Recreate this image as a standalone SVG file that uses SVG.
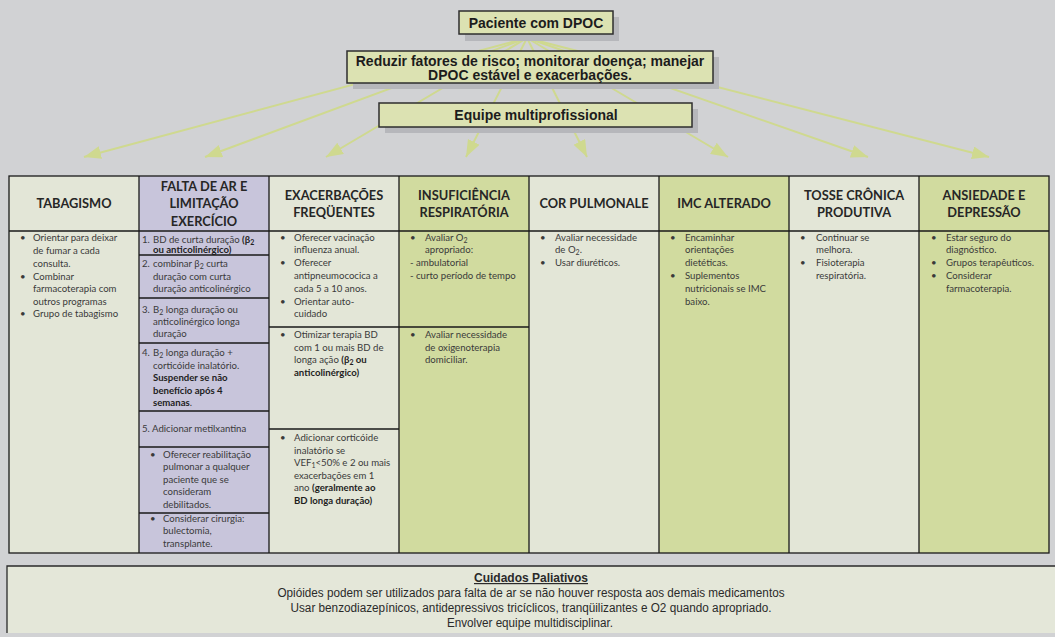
<svg xmlns="http://www.w3.org/2000/svg" width="1055" height="637" viewBox="0 0 1055 637">
<style>
.bg{fill:#d1d2d4}
.shadow{fill:#b6b7bb}
.box{fill:#dce2b2;stroke:#2e2e2e;stroke-width:1.5}
.title{font-family:"Liberation Sans",Arial,sans-serif;font-weight:bold;font-size:14px;fill:#1c1c1c;text-anchor:middle}
.pale{fill:#e3e6d7}
.lav{fill:#c8c5db}
.grn{fill:#d1db9f}
.grid{stroke:#1a1a1a;stroke-width:1.3;fill:none}
.hdr{font-family:Lato,"Noto Sans",sans-serif;font-weight:bold;font-size:12.8px;fill:#262626;text-anchor:middle}
.t{font-family:Lato,"Noto Sans",sans-serif;font-size:9.6px;fill:#3a3a3a}
.b{font-weight:bold;fill:#1e1e1e}
.conn{stroke:#cfd98f;stroke-width:2;fill:none}
.pal{font-family:"Liberation Sans",Arial,sans-serif;font-size:12px;fill:#2a2a2a;text-anchor:middle}
</style>
<defs>
<marker id="ah" markerUnits="userSpaceOnUse" markerWidth="18" markerHeight="14" refX="17" refY="6.5" orient="auto">
<path d="M0,0 L17,6.5 L0,13 z" fill="#cfd98f"/>
</marker>
</defs>
<rect class="bg" x="0" y="0" width="1055" height="637"/>

<g id="connectors">
<line class="conn" x1="527" y1="38" x2="84" y2="157" marker-end="url(#ah)"/>
<line class="conn" x1="527" y1="38" x2="205" y2="157" marker-end="url(#ah)"/>
<line class="conn" x1="527" y1="38" x2="326" y2="157" marker-end="url(#ah)"/>
<line class="conn" x1="527" y1="38" x2="466" y2="157" marker-end="url(#ah)"/>
<line class="conn" x1="527" y1="38" x2="587" y2="157" marker-end="url(#ah)"/>
<line class="conn" x1="527" y1="38" x2="728" y2="157" marker-end="url(#ah)"/>
<line class="conn" x1="527" y1="38" x2="868" y2="157" marker-end="url(#ah)"/>
<line class="conn" x1="527" y1="38" x2="989" y2="157" marker-end="url(#ah)"/>
</g>

<g id="paciente">
<rect class="shadow" x="465" y="17" width="154" height="24"/>
<rect class="box" x="459" y="11" width="154" height="23"/>
<text class="title" x="536" y="28">Paciente com DPOC</text>
</g>
<g id="reduzir">
<rect class="shadow" x="353" y="57" width="366" height="32"/>
<rect class="box" x="347" y="51" width="366" height="32"/>
<text class="title" x="530" y="66">Reduzir fatores de risco; monitorar doença; manejar</text>
<text class="title" x="530" y="80">DPOC estável e exacerbações.</text>
</g>
<g id="equipe">
<rect class="shadow" x="385" y="109" width="313" height="24"/>
<rect class="box" x="379" y="103" width="313" height="24"/>
<text class="title" x="536" y="120">Equipe multiprofissional</text>
</g>

<g id="tabagismo">
<rect class="pale" x="9" y="176" width="130" height="377"/>
<text class="hdr" x="74" y="208">TABAGISMO</text>
<text class="t" x="20" y="241">•</text>
<text class="t" x="33" y="241">Orientar para deixar</text>
<text class="t" x="33" y="254">de fumar a cada</text>
<text class="t" x="33" y="267">consulta.</text>
<text class="t" x="20" y="280">•</text>
<text class="t" x="33" y="280">Combinar</text>
<text class="t" x="33" y="292">farmacoterapia com</text>
<text class="t" x="33" y="305">outros programas</text>
<text class="t" x="20" y="317">•</text>
<text class="t" x="33" y="317">Grupo de tabagismo</text>
</g>

<g id="falta-de-ar">
<rect class="lav" x="139" y="176" width="130" height="377"/>
<text class="hdr" x="204" y="191">FALTA DE AR E</text>
<text class="hdr" x="204" y="208">LIMITAÇÃO</text>
<text class="hdr" x="204" y="226">EXERCÍCIO</text>
<text class="t" x="142" y="243">1.</text>
<text class="t" x="153" y="243">BD de curta duração <tspan class="b">(β<tspan font-size="7" dy="2">2</tspan></tspan></text>
<text class="t b" x="153" y="253">ou anticolinérgico)</text>
<text class="t" x="142" y="267">2.</text>
<text class="t" x="153" y="267">combinar β<tspan font-size="7" dy="2">2</tspan><tspan dy="-2"> curta</tspan></text>
<text class="t" x="153" y="280">duração com curta</text>
<text class="t" x="153" y="292">duração anticolinérgico</text>
<text class="t" x="142" y="313">3.</text>
<text class="t" x="153" y="313">B<tspan font-size="7" dy="2">2</tspan><tspan dy="-2"> longa duração ou</tspan></text>
<text class="t" x="153" y="325">anticolinérgico longa</text>
<text class="t" x="153" y="337">duração</text>
<text class="t" x="142" y="356">4.</text>
<text class="t" x="153" y="356">B<tspan font-size="7" dy="2">2</tspan><tspan dy="-2"> longa duração +</tspan></text>
<text class="t" x="153" y="369">corticóide inalatório.</text>
<text class="t b" x="153" y="381">Suspender se não</text>
<text class="t b" x="153" y="394">benefício após 4</text>
<text class="t" x="153" y="406"><tspan class="b">semanas</tspan>.</text>
<text class="t" x="142" y="432">5.</text>
<text class="t" x="152" y="432">Adicionar metilxantina</text>
<text class="t" x="150" y="458">•</text>
<text class="t" x="163" y="458">Oferecer reabilitação</text>
<text class="t" x="163" y="470">pulmonar a qualquer</text>
<text class="t" x="163" y="483">paciente que se</text>
<text class="t" x="163" y="495">consideram</text>
<text class="t" x="163" y="508">debilitados.</text>
<text class="t" x="150" y="522">•</text>
<text class="t" x="163" y="522">Considerar cirurgia:</text>
<text class="t" x="163" y="534">bulectomia,</text>
<text class="t" x="163" y="547">transplante.</text>
</g>

<g id="exacerbacoes">
<rect class="pale" x="269" y="176" width="130" height="377"/>
<text class="hdr" x="334" y="200">EXACERBAÇÕES</text>
<text class="hdr" x="334" y="217">FREQÜENTES</text>
<text class="t" x="280" y="241">•</text>
<text class="t" x="294" y="241">Oferecer vacinação</text>
<text class="t" x="294" y="253">influenza anual.</text>
<text class="t" x="280" y="266">•</text>
<text class="t" x="294" y="266">Oferecer</text>
<text class="t" x="294" y="279">antipneumococica a</text>
<text class="t" x="294" y="292">cada 5 a 10 anos.</text>
<text class="t" x="280" y="305">•</text>
<text class="t" x="294" y="305">Orientar auto-</text>
<text class="t" x="294" y="317">cuidado</text>
<text class="t" x="280" y="338">•</text>
<text class="t" x="294" y="338">Otimizar terapia BD</text>
<text class="t" x="294" y="351">com 1 ou mais BD de</text>
<text class="t" x="294" y="363">longa ação <tspan class="b">(β<tspan font-size="7" dy="2">2</tspan><tspan dy="-2"> ou</tspan></tspan></text>
<text class="t b" x="294" y="376">anticolinérgico)</text>
<text class="t" x="280" y="441">•</text>
<text class="t" x="294" y="441">Adicionar corticóide</text>
<text class="t" x="294" y="454">inalatório se</text>
<text class="t" x="294" y="466">VEF<tspan font-size="7" dy="2">1</tspan><tspan dy="-2">&lt;50% e 2 ou mais</tspan></text>
<text class="t" x="294" y="479">exacerbações em 1</text>
<text class="t" x="294" y="491">ano <tspan class="b">(geralmente ao</tspan></text>
<text class="t b" x="294" y="504">BD longa duração)</text>
</g>

<g id="insuficiencia">
<rect class="grn" x="399" y="176" width="130" height="377"/>
<text class="hdr" x="464" y="200">INSUFICIÊNCIA</text>
<text class="hdr" x="464" y="217">RESPIRATÓRIA</text>
<text class="t" x="410" y="241">•</text>
<text class="t" x="425" y="241">Avaliar O<tspan font-size="7" dy="2">2</tspan></text>
<text class="t" x="425" y="253">apropriado:</text>
<text class="t" x="410" y="266">- ambulatorial</text>
<text class="t" x="410" y="279">- curto período de tempo</text>
<text class="t" x="410" y="338">•</text>
<text class="t" x="425" y="338">Avaliar necessidade</text>
<text class="t" x="425" y="351">de oxigenoterapia</text>
<text class="t" x="425" y="363">domiciliar.</text>
</g>

<g id="cor-pulmonale">
<rect class="pale" x="529" y="176" width="130" height="377"/>
<text class="hdr" x="594" y="208">COR PULMONALE</text>
<text class="t" x="540" y="241">•</text>
<text class="t" x="555" y="241">Avaliar necessidade</text>
<text class="t" x="555" y="253">de O<tspan font-size="7" dy="2">2</tspan><tspan dy="-2">.</tspan></text>
<text class="t" x="540" y="266">•</text>
<text class="t" x="555" y="266">Usar diuréticos.</text>
</g>

<g id="imc">
<rect class="grn" x="659" y="176" width="130" height="377"/>
<text class="hdr" x="724" y="208">IMC ALTERADO</text>
<text class="t" x="670" y="241">•</text>
<text class="t" x="685" y="241">Encaminhar</text>
<text class="t" x="685" y="253">orientações</text>
<text class="t" x="685" y="266">dietéticas.</text>
<text class="t" x="670" y="279">•</text>
<text class="t" x="685" y="279">Suplementos</text>
<text class="t" x="685" y="292">nutricionais se IMC</text>
<text class="t" x="685" y="305">baixo.</text>
</g>

<g id="tosse">
<rect class="pale" x="789" y="176" width="130" height="377"/>
<text class="hdr" x="854" y="200">TOSSE CRÔNICA</text>
<text class="hdr" x="854" y="217">PRODUTIVA</text>
<text class="t" x="800" y="241">•</text>
<text class="t" x="816" y="241">Continuar se</text>
<text class="t" x="816" y="253">melhora.</text>
<text class="t" x="800" y="266">•</text>
<text class="t" x="816" y="266">Fisioterapia</text>
<text class="t" x="816" y="279">respiratória.</text>
</g>

<g id="ansiedade">
<rect class="grn" x="919" y="176" width="130" height="377"/>
<text class="hdr" x="984" y="200">ANSIEDADE E</text>
<text class="hdr" x="984" y="217">DEPRESSÃO</text>
<text class="t" x="931" y="241">•</text>
<text class="t" x="946" y="241">Estar seguro do</text>
<text class="t" x="946" y="253">diagnóstico.</text>
<text class="t" x="931" y="266">•</text>
<text class="t" x="946" y="266">Grupos terapêuticos.</text>
<text class="t" x="931" y="279">•</text>
<text class="t" x="946" y="279">Considerar</text>
<text class="t" x="946" y="292">farmacoterapia.</text>
</g>

<g id="table-grid">
<rect class="grid" x="9" y="176" width="1040" height="377"/>
<path class="grid" d="M139,176V553 M269,176V553 M399,176V553 M529,176V553 M659,176V553 M789,176V553 M919,176V553 M9,231H1049"/>
<path class="grid" d="M139,255H269 M139,298H269 M139,343H269 M139,411H269 M139,447H269 M139,513H269 M269,327H529 M269,429H399"/>
</g>

<g id="cuidados-paliativos">
<rect x="7" y="566" width="1050" height="67" fill="#e4e7d9"/>
<path d="M7,633V566H1055" stroke="#2a2a2a" stroke-width="1.3" fill="none"/>
<text class="pal" x="531" y="582" font-weight="bold" text-decoration="underline">Cuidados Paliativos</text>
<text class="pal" x="531" y="597" textLength="507" lengthAdjust="spacingAndGlyphs">Opióides podem ser utilizados para falta de ar se não houver resposta aos demais medicamentos</text>
<text class="pal" x="531" y="612" textLength="481" lengthAdjust="spacingAndGlyphs">Usar benzodiazepínicos, antidepressivos tricíclicos, tranqüilizantes e O2 quando apropriado.</text>
<text class="pal" x="530" y="627" textLength="166" lengthAdjust="spacingAndGlyphs">Envolver equipe multidisciplinar.</text>
</g>
</svg>
